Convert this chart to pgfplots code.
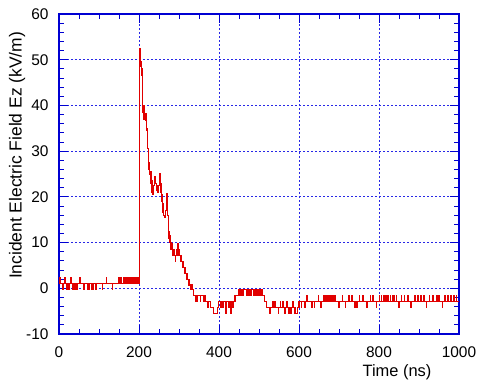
\documentclass[border=0pt]{standalone}
\usepackage{pgfplots}
\pgfplotsset{compat=1.18}
\usepackage{fontspec}
\setmainfont{Liberation Sans}
\definecolor{gridblue}{RGB}{40,40,230}
\definecolor{axblue}{RGB}{0,0,210}
\definecolor{trace}{RGB}{225,0,0}
\begin{document}
\begin{tikzpicture}
\begin{axis}[
  at={(0,0)}, anchor=south west,
  scale only axis, width=400bp, height=320bp,
  xmin=0, xmax=1000, ymin=-10, ymax=60,
  xtick={0,200,400,600,800,1000}, ytick={-10,0,10,20,30,40,50,60},
  xticklabels={0,200,400,600,800,1000},
  yticklabels={-10,0,10,20,30,40,50,60},
  minor x tick num=3, minor y tick num=4,
  major tick length=9bp, minor tick length=5bp,
  tick align=inside,
  tick style={axblue, line width=0.9bp},
  axis line style={axblue, line width=1.1bp},
  grid=major,
  major grid style={gridblue, line width=0.9bp, dash pattern=on 2bp off 2bp},
  tick label style={font=\fontsize{15.5}{18}\selectfont, black},
  xticklabel style={yshift=-9bp},
  yticklabel style={xshift=-7bp},
  xlabel={Time (ns)}, ylabel={Incident Electric Field Ez (kV/m)},
  xlabel style={font=\fontsize{16.5}{19}\selectfont, at={(axis description cs:0.845,-0.118)}, anchor=center},
  ylabel style={font=\fontsize{17.5}{20}\selectfont, at={(axis description cs:-0.105,0.558)}, anchor=center},
]
\addplot[trace, line width=1.2bp, const plot] table {
x y
0 1.0
2 2.3
3 1.0
10 -0.3
11 1.0
14 2.3
15 1.0
18 -0.3
19 1.0
22 -0.3
23 1.0
25 -0.3
26 1.0
30 2.3
31 1.0
33 -0.3
34 1.0
37 -0.3
38 1.0
40 -0.3
41 1.0
45 -0.3
46 1.0
52 2.3
53 1.0
62 -0.3
63 1.0
72 -0.3
73 1.0
76 -0.3
77 1.0
82 -0.3
83 1.0
86 -0.3
87 1.0
92 -0.3
93 1.0
108 -0.3
109 1.0
118 2.3
119 1.0
133 -0.3
134 1.0
150 2.3
151 1.0
155 2.3
156 1.0
162 2.3
163 1.0
166 2.3
167 1.0
170 2.3
172 1.0
175 2.3
177 1.0
180 2.3
181 1.0
184 2.3
186 1.0
189 2.3
190 1.0
192 2.3
194 1.0
196 2.3
197 1.0
199 2.3
200 1.0
202 52.5
203 50.5
204 48.5
205 49.5
206 46.5
207 48.0
208 45.0
209 40.0
210 38.5
211 39.5
212 37.0
213 40.0
214 38.0
216 36.8
217 38.3
219 35.0
220 34.6
221 32.0
222 30.5
223 29.5
224 27.5
225 26.0
227 25.0
228 23.0
229 25.5
230 24.5
231 22.0
232 21.0
233 23.5
234 22.0
235 20.5
237 22.5
239 24.5
241 23.0
243 21.5
245 22.5
247 21.0
249 22.5
251 25.0
253 23.0
255 21.0
256 19.0
257 20.5
258 17.8
259 16.5
261 18.5
262 16.0
264 15.4
266 17.0
268 19.0
269 20.8
270 19.5
271 18.0
272 16.0
273 14.0
274 12.5
275 11.0
276 10.0
277 11.5
278 9.0
279 9.9
280 8.4
282 9.8
283 8.4
285 7.1
287 8.4
289 7.1
291 5.9
292 7.1
294 8.4
295 7.1
297 9.8
298 8.4
300 7.1
301 8.4
302 7.1
303 5.9
305 7.1
306 5.9
308 4.6
310 5.9
311 4.6
313 3.3
315 4.6
316 3.3
318 2.0
320 3.3
321 2.0
323 0.7
325 2.0
326 0.7
329 -0.3
331 0.7
333 -0.3
336 -1.6
341 -2.9
342 -1.6
345 -2.9
347 -1.6
353 -2.9
354 -1.6
361 -2.9
362 -1.6
365 -2.9
372 -4.2
374 -2.9
378 -4.2
386 -5.5
397 -4.2
399 -2.9
405 -4.2
406 -2.9
410 -4.2
412 -2.9
417 -5.5
419 -2.9
423 -4.2
425 -2.9
428 -5.5
430 -2.9
434 -4.2
436 -2.9
440 -1.6
449 -0.3
452 -1.6
453 -0.3
456 -1.6
457 -0.3
460 -1.6
461 -0.3
469 -1.6
470 -0.3
474 -1.6
476 -0.3
479 -1.6
480 -0.3
486 -1.6
487 -0.3
490 -1.6
491 -0.3
494 -1.6
495 -0.3
500 -1.6
501 -0.3
505 -1.6
507 -0.3
509 -1.6
513 -2.9
519 -4.2
527 -5.5
528 -4.2
534 -2.9
535 -4.2
540 -2.9
541 -4.2
548 -5.5
549 -4.2
553 -2.9
554 -4.2
560 -2.9
561 -4.2
564 -5.5
565 -4.2
569 -2.9
570 -4.2
575 -5.5
576 -4.2
580 -5.5
582 -4.2
585 -2.9
586 -4.2
590 -5.5
597 -4.2
600 -2.9
606 -4.2
607 -2.9
614 -4.2
615 -2.9
620 -1.6
621 -2.9
632 -4.2
633 -2.9
638 -4.2
639 -2.9
648 -1.6
649 -2.9
655 -4.2
657 -2.9
662 -1.6
663 -2.9
666 -1.6
667 -2.9
670 -1.6
672 -2.9
675 -1.6
676 -2.9
679 -1.6
681 -2.9
684 -1.6
685 -2.9
690 -1.6
691 -2.9
700 -4.2
701 -2.9
708 -1.6
709 -2.9
716 -4.2
717 -2.9
724 -1.6
725 -2.9
732 -1.6
733 -2.9
740 -4.2
741 -2.9
745 -4.2
746 -2.9
751 -1.6
752 -2.9
760 -1.6
761 -2.9
770 -4.2
771 -2.9
778 -1.6
779 -2.9
785 -1.6
786 -2.9
793 -4.2
794 -2.9
801 -1.6
802 -2.9
806 -1.6
807 -2.9
811 -1.6
813 -2.9
817 -1.6
818 -2.9
822 -1.6
824 -2.9
828 -1.6
829 -2.9
833 -1.6
835 -2.9
838 -1.6
839 -2.9
843 -1.6
844 -2.9
850 -4.2
851 -2.9
856 -1.6
857 -2.9
863 -1.6
864 -2.9
872 -1.6
873 -2.9
880 -4.2
881 -2.9
888 -1.6
890 -2.9
897 -1.6
898 -2.9
904 -1.6
905 -2.9
912 -1.6
913 -2.9
918 -4.2
919 -2.9
926 -1.6
927 -2.9
935 -1.6
936 -2.9
944 -1.6
945 -2.9
950 -1.6
951 -2.9
958 -4.2
959 -2.9
965 -1.6
966 -2.9
972 -1.6
974 -2.9
980 -1.6
981 -2.9
987 -1.6
988 -2.9
993 -1.6
994 -2.9
1000 -2.9
};
\end{axis}
\pgfresetboundingbox
\path (-59bp,-48bp) rectangle (419bp,334bp);
\end{tikzpicture}
\end{document}
